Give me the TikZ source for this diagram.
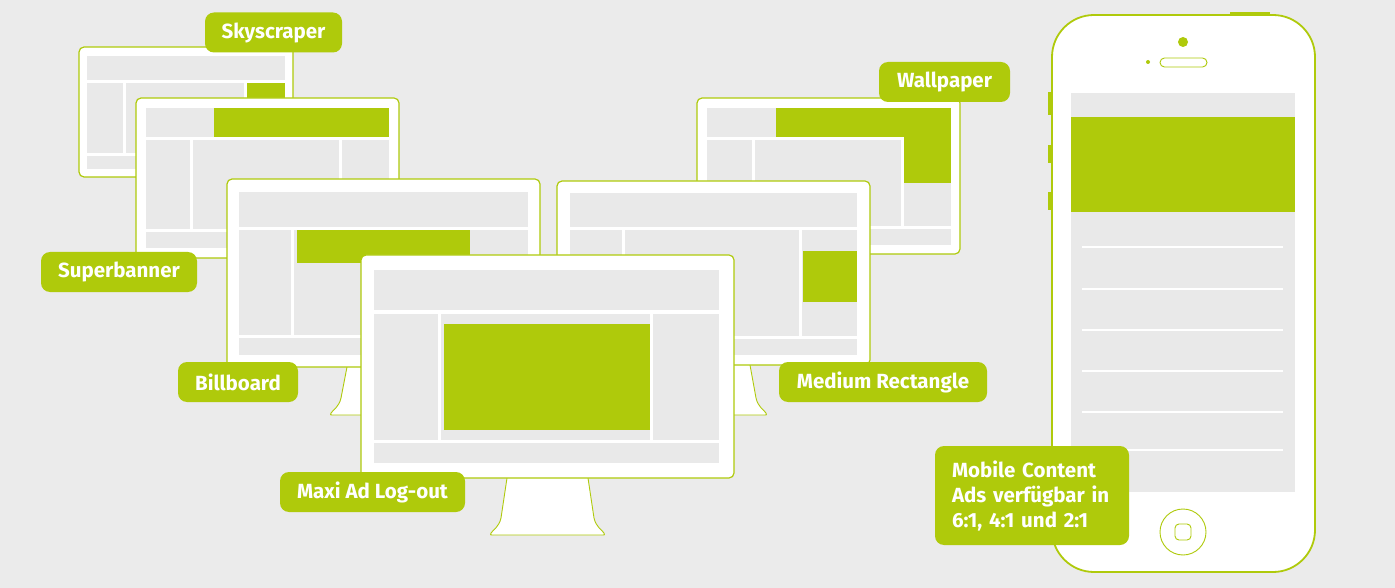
\documentclass[tikz,border=0pt]{standalone}
\usepackage{fontspec}
\setmainfont{Fira Sans}
\definecolor{grn}{RGB}{175,202,11}
\definecolor{bg}{RGB}{235,235,235}
\definecolor{scr}{RGB}{233,233,233}
\newcommand\standpath[4]{%
  \draw[stand] ({#1-#4},#2) -- ({#1-#4-6},{#3-17}) .. controls ({#1-#4-8},{#3-8}) and ({#1-#4-14},{#3-5}) .. ({#1-#4-16},{#3-2})
    .. controls ({#1-#4-17},#3) .. ({#1-#4-13},#3) -- ({#1+#4+13},#3) .. controls ({#1+#4+17},#3) .. ({#1+#4+16},{#3-2})
    .. controls ({#1+#4+14},{#3-5}) and ({#1+#4+8},{#3-8}) .. ({#1+#4+6},{#3-17}) -- ({#1+#4},#2);}
\begin{document}
\begin{tikzpicture}[x=1pt,y=-1pt,
  frame/.style={fill=white,draw=grn,line width=1.2pt,rounded corners=5pt},
  cell/.style={fill=scr},
  ad/.style={fill=grn},
  stand/.style={fill=white,draw=grn,line width=0.9pt},
  tag/.style={fill=grn,rounded corners=9pt,text=white,font=\fontsize{20.5}{25}\selectfont\bfseries,inner sep=0pt,minimum height=40pt}]
\fill[bg] (0,0) rectangle (1395,588);
\useasboundingbox (0,0) rectangle (1395,588);

% ---- Monitor 1 (Skyscraper)
\draw[frame] (79,47) rectangle (293,177);
\fill[cell] (87,56) rectangle (285,80);
\fill[cell] (87,83) rectangle (123,153);
\fill[cell] (126,83) rectangle (244,153);
\fill[ad] (247,83) rectangle (285,153);
\fill[cell] (87,156) rectangle (285,169);

% ---- Monitor 2 (Superbanner)
\standpath{280}{258}{306}{34}
\draw[frame] (136,98) rectangle (399,258);
\fill[cell] (146,108) rectangle (214,137);
\fill[ad] (214,108) rectangle (389,137);
\fill[cell] (146,140) rectangle (190,229);
\fill[cell] (193,140) rectangle (339,229);
\fill[cell] (342,140) rectangle (389,229);
\fill[cell] (146,232) rectangle (389,248);

% ---- Monitor 6 (Wallpaper)
\draw[frame] (697,98) rectangle (960,254);
\fill[cell] (707,108) rectangle (776,137);
\fill[ad] (776,108) rectangle (951,137);
\fill[ad] (904,137) rectangle (951,183);
\fill[cell] (707,140) rectangle (752,226);
\fill[cell] (755,140) rectangle (901,226);
\fill[cell] (904,183) rectangle (951,226);
\fill[cell] (707,229) rectangle (951,245);

% ---- Monitor 3 (Billboard)
\standpath{383.5}{367}{415}{36.5}
\draw[frame] (227,179) rectangle (540,367);
\fill[cell] (239,192) rectangle (528,227);
\fill[cell] (239,230) rectangle (291,335);
\fill[cell] (294,230) rectangle (528,335);
\fill[ad] (297,230) rectangle (470,263);
\fill[cell] (239,338) rectangle (528,355);

% ---- Monitor 5 (Medium Rectangle)
\standpath{713.5}{365}{415}{36.5}
\draw[frame] (557,181) rectangle (870,365);
\fill[cell] (570,193) rectangle (857,227);
\fill[cell] (570,230) rectangle (622,336);
\fill[cell] (625,230) rectangle (799,336);
\fill[cell] (802,230) rectangle (857,336);
\fill[ad] (803,251) rectangle (857,302);
\fill[cell] (570,339) rectangle (857,355);

% ---- Monitor 4 (Maxi Ad)
\standpath{547.5}{478}{535}{40.5}
\draw[frame] (361,255) rectangle (734,478);
\fill[cell] (374,270) rectangle (719,310);
\fill[cell] (374,314) rectangle (438,440);
\fill[cell] (441,314) rectangle (650,440);
\fill[ad] (444,324) rectangle (650,430);
\fill[cell] (653,314) rectangle (719,440);
\fill[cell] (374,443) rectangle (719,463);

% ---- Phone
\fill[grn] (1048,92) rectangle (1053,115);
\fill[grn] (1048,145) rectangle (1053,163);
\fill[grn] (1048,192) rectangle (1053,210);
\fill[grn] (1230,12) rectangle (1270,17);
\draw[fill=white,draw=grn,line width=1.8pt,rounded corners=42pt] (1052,15) rectangle (1315,572);
\fill[grn] (1183,42) circle (5);
\fill[grn] (1148,62) circle (2);
\draw[grn,line width=0.9pt,rounded corners=4.5pt] (1160,58) rectangle (1207,67);
\fill[cell] (1071,93) rectangle (1295,492);
\fill[ad] (1071,117) rectangle (1295,212);
\foreach \yy in {247,289,330,371,412,450}
  \fill[white] (1082,{\yy-1.3}) rectangle (1283,{\yy+1.3});
\draw[grn,line width=0.9pt] (1183,532) circle (23);
\draw[grn,line width=0.9pt,rounded corners=4pt] (1175,524) rectangle (1191,540);

% ---- Labels
\node[tag,minimum width=137pt] (sky) at (273.5,32.5) {Skyscraper};
\node[tag,minimum width=131pt] (wall) at (944.5,82) {Wallpaper};
\node[tag,minimum width=156pt] (super) at (119,272) {Superbanner};
\node[tag,minimum width=120pt] (bill) at (238,382) {Billboard};
\node[tag,minimum width=208pt] (medium) at (883,382) {Medium Rectangle};
\node[tag,minimum width=185pt] (maxi) at (372.5,492) {Maxi Ad Log-out};
\node[tag,minimum height=99pt,inner xsep=17pt,text width=160pt,align=left] (mobile) at (1032,495.5)
  {Mobile Content\\Ads verfügbar in\\6:1, 4:1 und 2:1};
\end{tikzpicture}
\end{document}
